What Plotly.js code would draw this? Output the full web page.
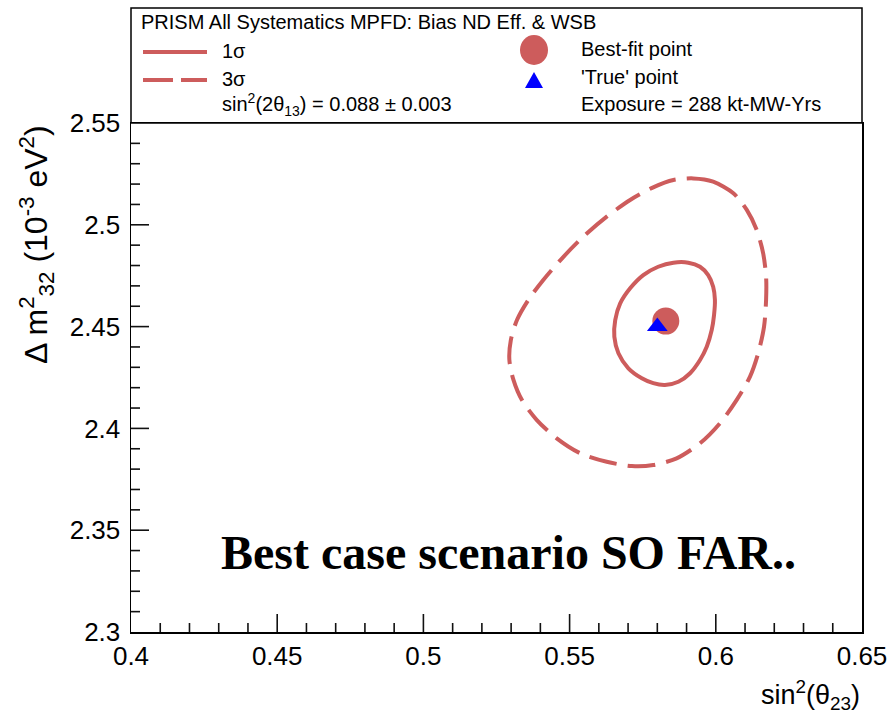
<!DOCTYPE html>
<html>
<head>
<meta charset="utf-8">
<script src="https://cdn.plot.ly/plotly-3.0.1.min.js"></script>
<style>html,body{margin:0;padding:0;background:#fff;}#chart{width:895px;height:714px;}</style>
</head>
<body>
<div id="chart"></div>
<script>
// ---- data ----
const xTickVals = [0.4, 0.45, 0.5, 0.55, 0.6, 0.65];
const xTickText = ["0.4", "0.45", "0.5", "0.55", "0.6", "0.65"];
const yTickVals = [2.3, 2.35, 2.4, 2.45, 2.5, 2.55];
const yTickText = ["2.3", "2.35", "2.4", "2.45", "2.5", "2.55"];
const minorStep = 0.01;

// 1 sigma contour (closed)
const sig1X = [0.5906, 0.5946, 0.5974, 0.5991, 0.5997, 0.5994, 0.5986, 0.5969, 0.5946, 0.5912, 0.5872, 0.5826,
               0.5786, 0.5747, 0.5701, 0.5667, 0.5653, 0.5656, 0.5673, 0.5707, 0.5752, 0.5803, 0.5855, 0.5906];
const sig1Y = [2.4814, 2.4794, 2.4753, 2.4696, 2.4631, 2.4557, 2.4483, 2.4401, 2.4336, 2.4271, 2.4229, 2.4213,
               2.4222, 2.4246, 2.4295, 2.4369, 2.4450, 2.4532, 2.4614, 2.4688, 2.4753, 2.4794, 2.4814, 2.4814];

// 3 sigma contour (closed)
const sig3X = [0.5923, 0.5991, 0.6060, 0.6106, 0.6140, 0.6162, 0.6172, 0.6172, 0.6165, 0.6145, 0.6117, 0.6071,
               0.6014, 0.5946, 0.5866, 0.5786, 0.5713, 0.5627, 0.5536, 0.5456, 0.5388, 0.5337, 0.5308, 0.5294,
               0.5299, 0.5320, 0.5359, 0.5410, 0.5479, 0.5547, 0.5627, 0.5707, 0.5786, 0.5855, 0.5923];
const sig3Y = [2.5228, 2.5212, 2.5155, 2.5073, 2.4974, 2.4860, 2.4745, 2.4631, 2.4500, 2.4369, 2.4254, 2.4139,
               2.4025, 2.3927, 2.3853, 2.3820, 2.3815, 2.3836, 2.3878, 2.3951, 2.4041, 2.4139, 2.4238, 2.4336,
               2.4434, 2.4532, 2.4631, 2.4729, 2.4843, 2.4942, 2.5040, 2.5122, 2.5184, 2.5220, 2.5228];

const bestFitX = [0.5829];
const bestFitY = [2.4527];
const trueX = [0.58];
const trueY = [2.45];

const legendTitle = "PRISM All Systematics MPFD: Bias ND Eff. & WSB";
const legendLabels = ["1σ", "3σ", "Best-fit point", "'True' point"];
const thetaText = "sin<sup>2</sup>(2θ<sub>13</sub>) = 0.088 ± 0.003";
const exposureText = "Exposure = 288 kt-MW-Yrs";
const bigText = "Best case scenario SO FAR..";

// ---- layout helpers ----
const W = 895, H = 714;
const M = {l: 131, r: 33, t: 123, b: 82};
const PW = W - M.l - M.r, PH = H - M.t - M.b;
const px2x = p => (p - M.l) / PW;
const px2y = p => (H - M.b - p) / PH;

const red = "rgb(205,92,92)";
const blue = "rgb(0,0,255)";
const sans = "Liberation Sans, Arial, Helvetica, sans-serif";

const traces = [
  {x: sig3X, y: sig3Y, type: "scatter", mode: "lines", line: {color: red, width: 4, dash: "28px,11px", shape: "spline", smoothing: 0.8}, hoverinfo: "skip", showlegend: false},
  {x: sig1X, y: sig1Y, type: "scatter", mode: "lines", line: {color: red, width: 4, shape: "spline", smoothing: 0.8}, hoverinfo: "skip", showlegend: false},
  {x: bestFitX, y: bestFitY, type: "scatter", mode: "markers", marker: {symbol: "circle", size: 27, color: red}, showlegend: false},
  {x: trueX, y: trueY, type: "scatter", mode: "markers", marker: {symbol: "triangle-up", size: 18, color: blue}, showlegend: false}
];

// tick marks drawn inside the frame (ROOT style)
function tickPositions(vals) {
  const out = [];
  const lo = vals[0], hi = vals[vals.length - 1];
  const n = Math.round((hi - lo) / minorStep);
  for (let i = 1; i < n; i++) {
    const v = Math.round((lo + i * minorStep) * 1e6) / 1e6;
    const major = vals.some(m => Math.abs(m - v) < 1e-9);
    out.push({v: v, major: major});
  }
  return out;
}
const tickLine = {color: "#111", width: 1.6};
const tickShapes = [];
tickPositions(xTickVals).forEach(t => tickShapes.push({
  type: "line", xref: "x", yref: "paper", ysizemode: "pixel", yanchor: 0, x0: t.v, x1: t.v, y0: 0, y1: t.major ? 18 : 9,
  line: tickLine}));
tickPositions(yTickVals).forEach(t => tickShapes.push({
  type: "line", xref: "paper", yref: "y", xsizemode: "pixel", xanchor: 0, y0: t.v, y1: t.v, x0: 0, x1: t.major ? 18 : 9,
  line: tickLine}));

function ann(text, xp, yp, size, extra) {
  return Object.assign({text: text, x: px2x(xp), y: px2y(yp), xref: "paper", yref: "paper",
    xanchor: "left", yanchor: "middle", showarrow: false, font: {family: sans, size: size, color: "#000"}}, extra || {});
}

const layout = {
  width: W, height: H,
  margin: M,
  paper_bgcolor: "#fff", plot_bgcolor: "#fff",
  showlegend: false,
  xaxis: {
    range: [xTickVals[0], xTickVals[xTickVals.length - 1]],
    tickmode: "array", tickvals: xTickVals, ticktext: xTickText, ticks: "",
    showline: true, mirror: true, linecolor: "#000", linewidth: 1.5,
    showgrid: false, zeroline: false, ticklabelstandoff: 0,
    tickfont: {family: sans, size: 26, color: "#000"}, fixedrange: true
  },
  yaxis: {
    range: [yTickVals[0], yTickVals[yTickVals.length - 1]],
    tickmode: "array", tickvals: yTickVals, ticktext: yTickText, ticks: "",
    showline: true, mirror: true, linecolor: "#000", linewidth: 1.5,
    showgrid: false, zeroline: false, ticklabelstandoff: 4,
    tickfont: {family: sans, size: 26, color: "#000"}, fixedrange: true
  },
  shapes: tickShapes.concat([
    // legend box
    {type: "rect", xref: "paper", yref: "paper", x0: 0, x1: 1, y0: 1, y1: px2y(8), line: {color: "#000", width: 1.5}, fillcolor: "rgba(0,0,0,0)"},
    // legend line samples
    {type: "line", xref: "paper", yref: "paper", x0: px2x(143), x1: px2x(207), y0: px2y(52), y1: px2y(52), line: {color: red, width: 4}},
    {type: "line", xref: "paper", yref: "paper", x0: px2x(143), x1: px2x(207), y0: px2y(80), y1: px2y(80), line: {color: red, width: 4, dash: "30px,8px"}},
    // legend marker samples
    {type: "circle", xref: "paper", yref: "paper", xsizemode: "pixel", ysizemode: "pixel", xanchor: px2x(534), yanchor: px2y(50),
     x0: -14, x1: 14, y0: -15, y1: 15, fillcolor: red, line: {width: 0}},
    {type: "path", xref: "paper", yref: "paper", xsizemode: "pixel", ysizemode: "pixel", xanchor: px2x(534), yanchor: px2y(81),
     path: "M -9,-7 L 9,-7 L 0,9 Z", fillcolor: blue, line: {width: 0}}
  ]),
  annotations: [
    ann(legendTitle, 139, 22, 20),
    ann(legendLabels[0], 220, 51, 20),
    ann(legendLabels[1], 220, 79, 20),
    ann(thetaText, 220, 104, 20),
    ann(legendLabels[2], 579, 49, 20),
    ann(legendLabels[3], 579, 77, 20),
    ann(exposureText, 579, 104, 20),
    {text: "<b>" + bigText + "</b>", x: px2x(508), y: px2y(552), xref: "paper", yref: "paper", xanchor: "center", yanchor: "middle",
     showarrow: false, font: {family: "Liberation Serif, Times New Roman, serif", size: 48, color: "#000"}},
    {text: "sin<sup>2</sup>(θ<sub>23</sub>)", x: 1, y: px2y(695), xref: "paper", yref: "paper", xanchor: "right", yanchor: "middle",
     showarrow: false, font: {family: sans, size: 27, color: "#000"}},
    {text: "Δ m<sup>2</sup><sub>32</sub> (10<sup>-3</sup> eV<sup>2</sup>)", x: px2x(36), y: px2y(244), xref: "paper", yref: "paper",
     xanchor: "center", yanchor: "middle", textangle: -90, showarrow: false, font: {family: sans, size: 32, color: "#000"}}
  ]
};

Plotly.newPlot("chart", traces, layout, {displayModeBar: false, staticPlot: true});
</script>
</body>
</html>
